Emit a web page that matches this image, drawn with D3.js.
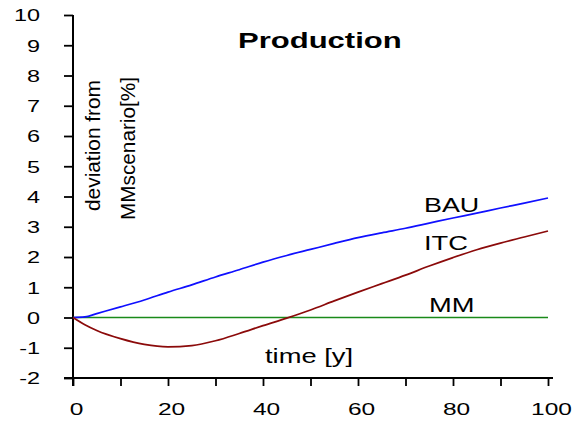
<!DOCTYPE html>
<html><head><meta charset="utf-8">
<script src="https://cdn.jsdelivr.net/npm/d3@7"></script>
<style>
html,body{margin:0;padding:0;background:#fff;}
text{font-family:"Liberation Sans",Arial,sans-serif;fill:#000;}
</style></head>
<body><svg id="c" width="576" height="423"></svg>
<script>
const years   = [0,2.5,5,10,15,20,25,30,35,40,45,50,55,60,65,70,75,80,85,90,95,100];
const bau     = [0,0.02,0.13,0.35,0.58,0.84,1.08,1.34,1.58,1.83,2.05,2.25,2.45,2.64,2.80,2.95,3.12,3.29,3.45,3.62,3.78,3.95];
const itc     = [0,-0.24,-0.43,-0.70,-0.89,-0.97,-0.93,-0.77,-0.53,-0.27,-0.02,0.25,0.55,0.84,1.12,1.40,1.70,1.98,2.24,2.46,2.66,2.86];
const mm      = [0,0,0,0,0,0,0,0,0,0,0,0,0,0,0,0,0,0,0,0,0,0];
const xTicks  = [0,10,20,30,40,50,60,70,80,90,100];
const xLabels = [0,20,40,60,80,100];
const yTicks  = [-2,-1,0,1,2,3,4,5,6,7,8,9,10];
const seriesNames = ["BAU","ITC","MM"];
const title = "Production";
const xTitle = "time [y]";
const yTitle = ["deviation from","MMscenario[%]"];

const svg = d3.select("#c");
const x = d3.scaleLinear().domain([0,100]).range([73,548]);
const y = d3.scaleLinear().domain([-2,10]).range([378,15]);

function stretch(sel, k){
  sel.each(function(){
    const w = this.getComputedTextLength();
    d3.select(this).attr("textLength", w*k).attr("lengthAdjust","spacingAndGlyphs");
  });
}

// Y axis
const ya = svg.append("g").attr("transform","translate(73,0)")
  .call(d3.axisLeft(y).tickValues(yTicks).tickSize(9).tickSizeOuter(0).tickFormat(d3.format("d")));
ya.select(".domain").remove();
ya.selectAll(".tick line").attr("stroke","#000").attr("stroke-width",1.8);
ya.selectAll(".tick text").attr("x",-33).attr("dy","0.36em").attr("font-size",16.5)
  .attr("text-anchor","end").text(d=>d<0?"-"+Math.abs(d):d).call(stretch,1.42);
svg.append("line").attr("x1",73).attr("x2",73).attr("y1",y(10)).attr("y2",y(-2)+8)
  .attr("stroke","#000").attr("stroke-width",2);

// X axis
const xa = svg.append("g").attr("transform","translate(0,"+y(-2)+")")
  .call(d3.axisBottom(x).tickValues(xTicks).tickSize(8).tickSizeOuter(0)
    .tickFormat(d=>xLabels.includes(d)?d:""));
xa.select(".domain").remove();
xa.selectAll(".tick line").attr("stroke","#000").attr("stroke-width",1.8);
xa.selectAll(".tick text").attr("y",37).attr("dy",0).attr("x",3).attr("font-size",17).call(stretch,1.44);
svg.append("line").attr("x1",64).attr("x2",553).attr("y1",y(-2)).attr("y2",y(-2))
  .attr("stroke","#000").attr("stroke-width",2);

// Lines
const line = d3.line().x((d,i)=>x(years[i])).y(d=>y(d)).curve(d3.curveMonotoneX);
svg.append("path").datum(mm).attr("d",line).attr("fill","none").attr("stroke","#1a8a1a").attr("stroke-width",1.5);
svg.append("path").datum(bau).attr("d",line).attr("fill","none").attr("stroke","#1010ff").attr("stroke-width",1.7);
svg.append("path").datum(itc).attr("d",line).attr("fill","none").attr("stroke","#8b0a0a").attr("stroke-width",1.7);

// Series labels
svg.append("text").attr("x",424).attr("y",212).attr("font-size",21).text(seriesNames[0]).call(stretch,1.28);
svg.append("text").attr("x",424).attr("y",250).attr("font-size",21).text(seriesNames[1]).call(stretch,1.3);
svg.append("text").attr("x",429).attr("y",312).attr("font-size",21).text(seriesNames[2]).call(stretch,1.3);

// Titles
svg.append("text").attr("x",238).attr("y",48).attr("font-size",22).attr("font-weight","bold")
  .text(title).call(stretch,1.41);
svg.append("text").attr("x",265).attr("y",363).attr("font-size",21).text(xTitle).call(stretch,1.3);
svg.append("text").attr("transform","translate(100,211) rotate(-90)").attr("font-size",21)
  .attr("textLength",131).attr("lengthAdjust","spacingAndGlyphs").text(yTitle[0]);
svg.append("text").attr("transform","translate(135,220) rotate(-90)").attr("font-size",21)
  .attr("textLength",143).attr("lengthAdjust","spacingAndGlyphs").text(yTitle[1]);
</script></body></html>
